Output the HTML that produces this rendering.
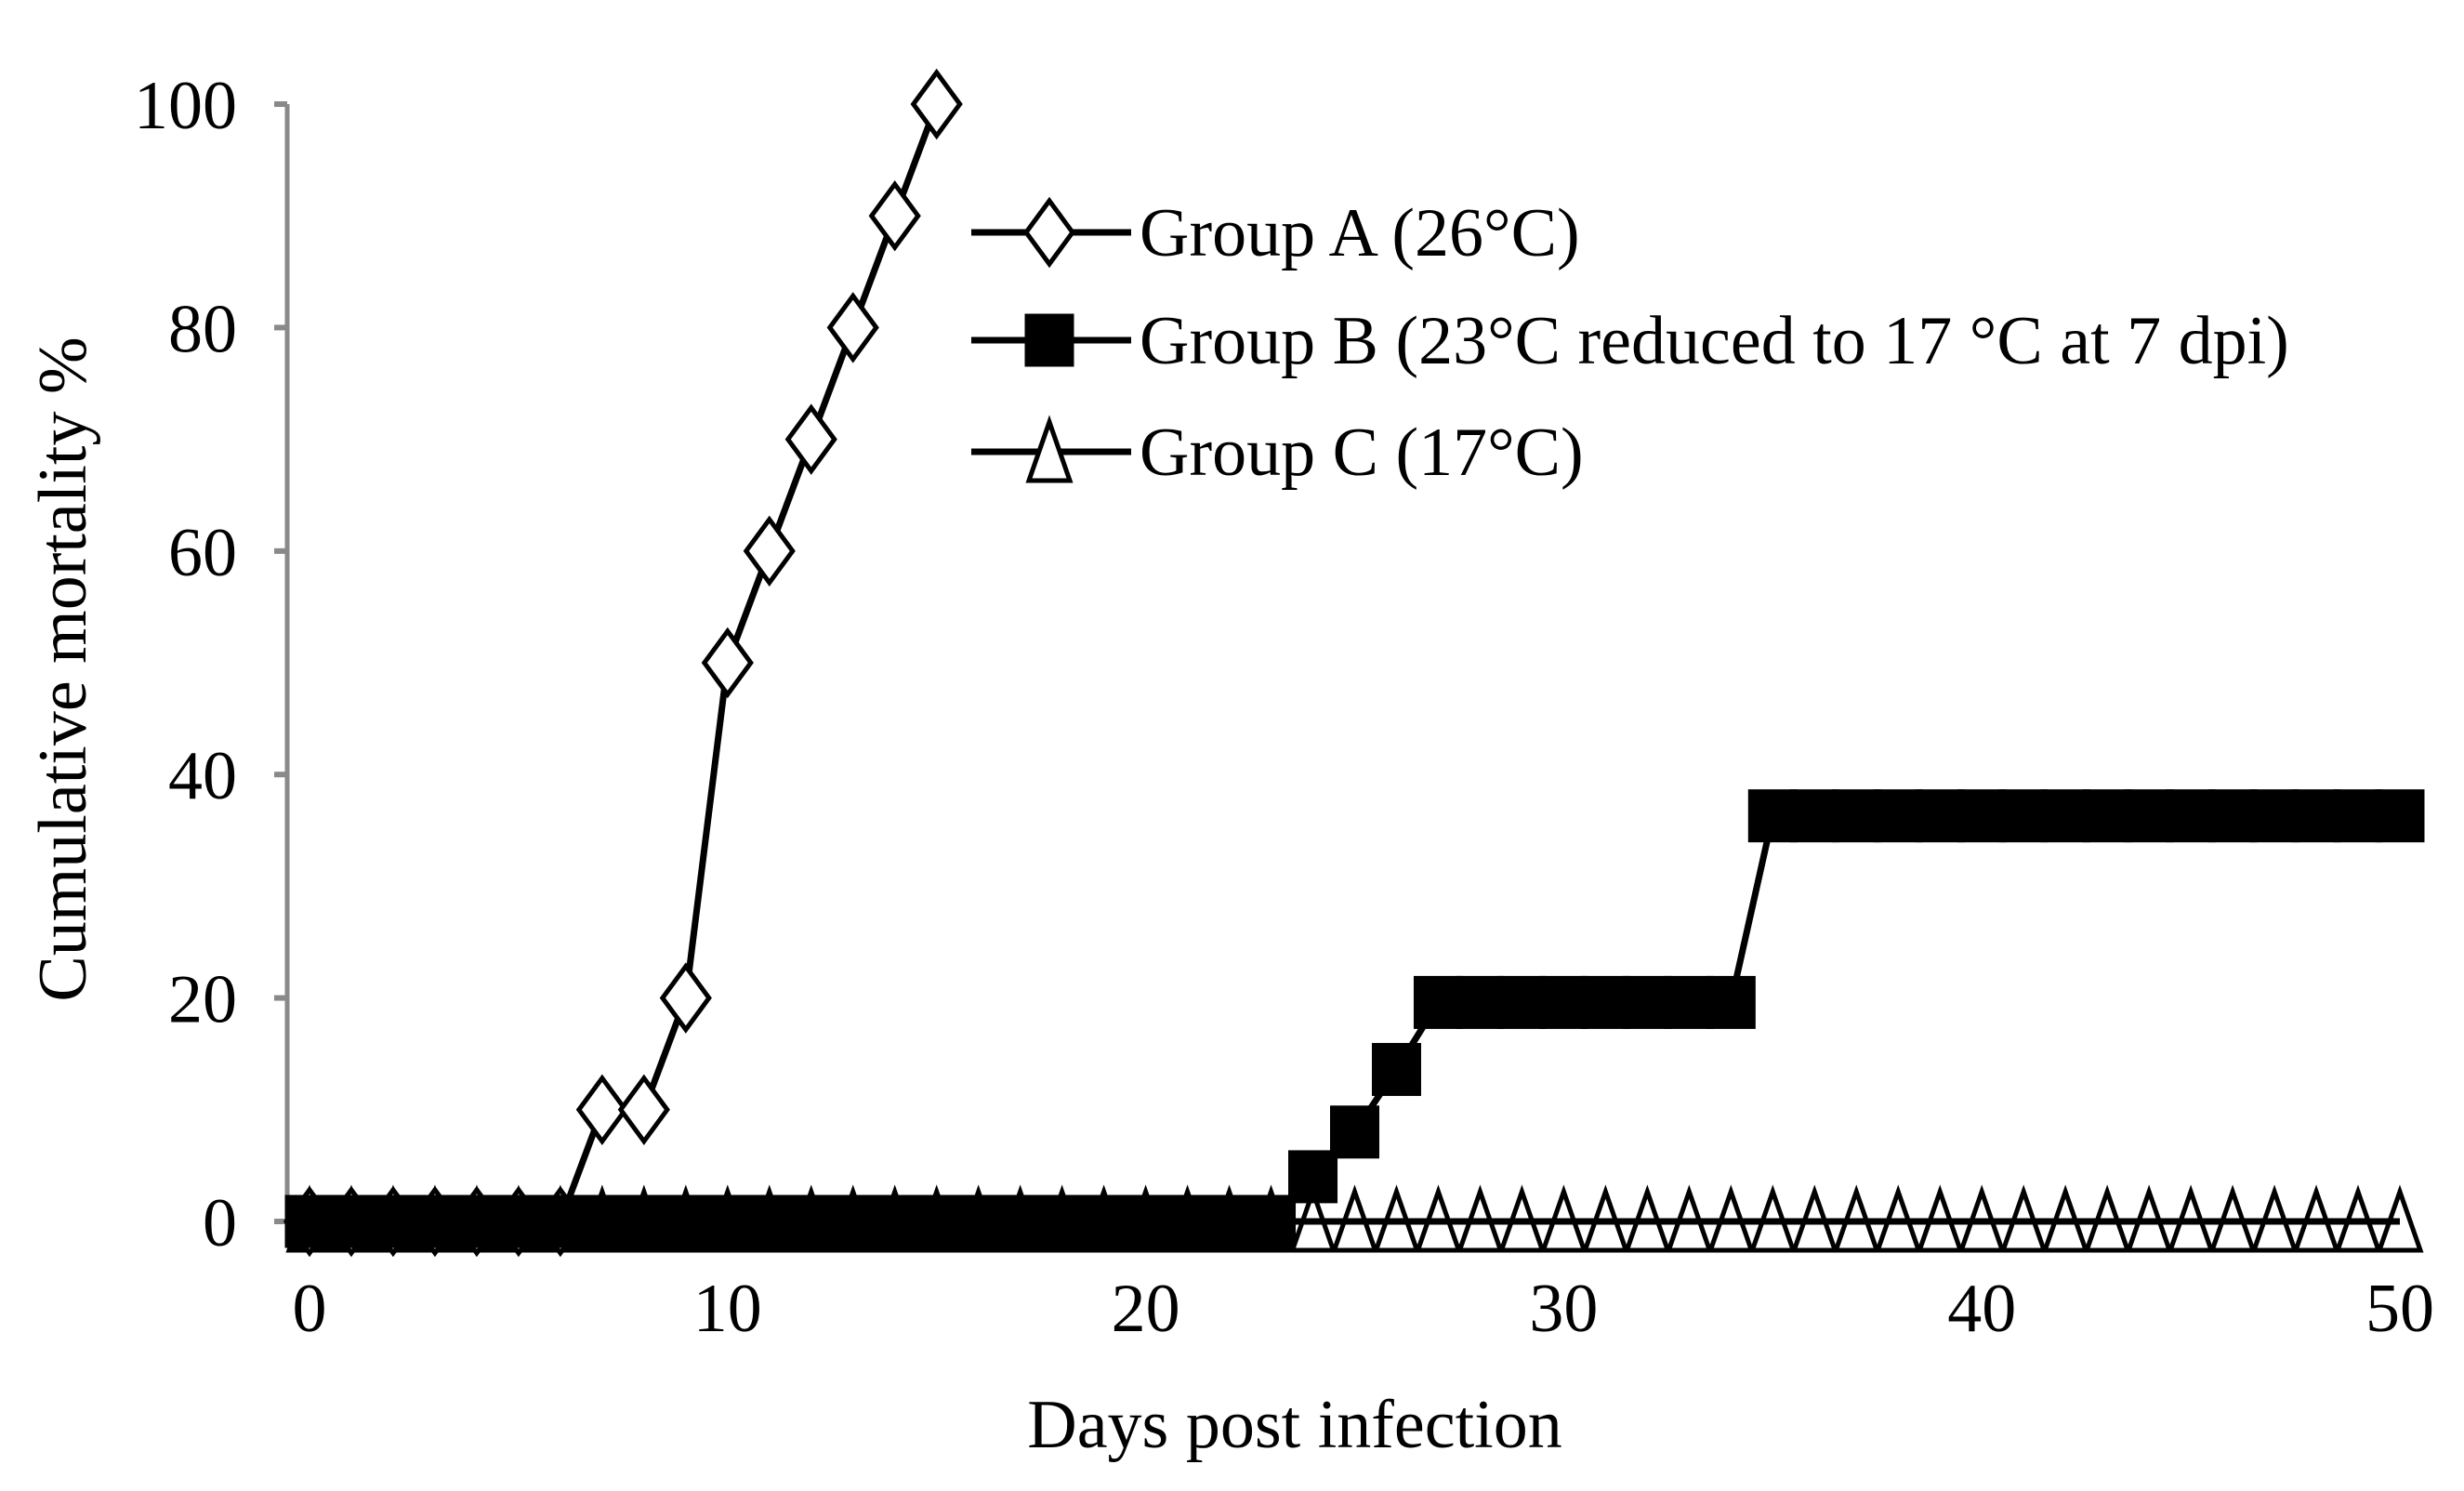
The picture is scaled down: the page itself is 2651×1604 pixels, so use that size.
<!DOCTYPE html>
<html><head><meta charset="utf-8"><style>
html,body{margin:0;padding:0;background:#fff;}
svg{display:block;font-family:"Liberation Serif",serif;}
</style></head><body>
<svg id="chart" width="2651" height="1604" viewBox="0 0 2651 1604">
<g id="axes"></g><g id="series"></g><g id="legend"></g>
<text x="0" y="0" transform="translate(92,720) rotate(-90)" text-anchor="middle" font-size="74">Cumulative mortality %</text>
<text x="1393" y="1557" text-anchor="middle" font-size="74">Days post infection</text>
</svg>
<script>
const xTicks=[0,10,20,30,40,50];
const yTicks=[0,20,40,60,80,100];
const daysA=[0,1,2,3,4,5,6,7,8,9,10,11,12,13,14,15];
const valuesA=[0,0,0,0,0,0,0,10,10,20,50,60,70,80,90,100];
const daysB=[0,1,2,3,4,5,6,7,8,9,10,11,12,13,14,15,16,17,18,19,20,21,22,23,24,25,26,27,28,29,30,31,32,33,34,35,36,37,38,39,40,41,42,43,44,45,46,47,48,49,50];
const valuesB=[0,0,0,0,0,0,0,0,0,0,0,0,0,0,0,0,0,0,0,0,0,0,0,0,4,8,13.6,19.6,19.6,19.6,19.6,19.6,19.6,19.6,19.6,36.3,36.3,36.3,36.3,36.3,36.3,36.3,36.3,36.3,36.3,36.3,36.3,36.3,36.3,36.3,36.3];
const daysC=daysB;
const valuesC=[0,0,0,0,0,0,0,0,0,0,0,0,0,0,0,0,0,0,0,0,0,0,0,0,0,0,0,0,0,0,0,0,0,0,0,0,0,0,0,0,0,0,0,0,0,0,0,0,0,0,0];
const legendLabels=["Group A (26°C)","Group B (23°C reduced to 17 °C at 7 dpi)","Group C (17°C)"];

const NS="http://www.w3.org/2000/svg";
const X0=333,X1=2582,Y0=1314,Y1=112;
function sx(v){return X0+(v-0)/(50-0)*(X1-X0);}
function sy(v){return Y0-(v-0)/(100-0)*(Y0-Y1);}
function mk(tag,attrs,parent){const e=document.createElementNS(NS,tag);for(const k in attrs)e.setAttribute(k,attrs[k]);parent.appendChild(e);return e;}
const axes=document.getElementById('axes'),series=document.getElementById('series'),legend=document.getElementById('legend');

let yl=mk('line',{x1:309,y1:Y1,x2:309,y2:Y0,stroke:'#898989','stroke-width':5},axes);


let xl=mk('line',{x1:309,y1:Y0,x2:X1+10,y2:Y0,stroke:'#898989','stroke-width':5},axes);


yTicks.forEach(t=>{
  let tk=mk('line',{x1:295,y1:sy(t),x2:309,y2:sy(t),stroke:'#898989','stroke-width':6},axes);
  
  
  let tx=mk('text',{x:255,y:sy(t)+26,'text-anchor':'end','font-size':74},axes);
  tx.textContent=t;
  
  
});
xTicks.forEach(t=>{
  let tx=mk('text',{x:sx(t),y:1432,'text-anchor':'middle','font-size':74},axes);
  tx.textContent=t;
  
  
});

function tri(g,x,y){let p=mk('polygon',{points:`${x},${y-32} ${x-22},${y+31} ${x+22},${y+31}`,fill:'#fff',stroke:'#000','stroke-width':5},g);
  
  }
function sq(g,x,y){let r=mk('rect',{x:x-25,y:y-27,width:50,height:54,fill:'#000',stroke:'#000','stroke-width':3},g);
  
  }
function dia(g,x,y){let p=mk('polygon',{points:`${x},${y-34} ${x+25},${y} ${x},${y+34} ${x-25},${y}`,fill:'#fff',stroke:'#000','stroke-width':5},g);
  
  }
function line(g,xs,ys,name){let pl=mk('polyline',{points:xs.map((d,i)=>sx(d)+','+sy(ys[i])).join(' '),fill:'none',stroke:'#000','stroke-width':7},g);
  
  }

let gC=mk('g',{},series);


daysC.forEach((d,i)=>tri(gC,sx(d),sy(valuesC[i])));
line(gC,daysC,valuesC,'line-group-c');
let gA=mk('g',{},series);


line(gA,daysA,valuesA,'line-group-a');
daysA.forEach((d,i)=>dia(gA,sx(d),sy(valuesA[i])));
let gB=mk('g',{},series);


line(gB,daysB,valuesB,'line-group-b');
daysB.forEach((d,i)=>sq(gB,sx(d),sy(valuesB[i])));

const ly=[250,366,486];
const fns=[dia,sq,tri];
legendLabels.forEach((l,i)=>{
  let g=mk('g',{},legend);
  
  
  let ln=mk('line',{x1:1045,y1:ly[i],x2:1217,y2:ly[i],stroke:'#000','stroke-width':7},g);
  
  
  fns[i](g,1129,ly[i]);
  let t=mk('text',{x:1226,y:ly[i]+25,'font-size':74},g);
  t.textContent=l;
  
  
});
</script>
</body></html>
